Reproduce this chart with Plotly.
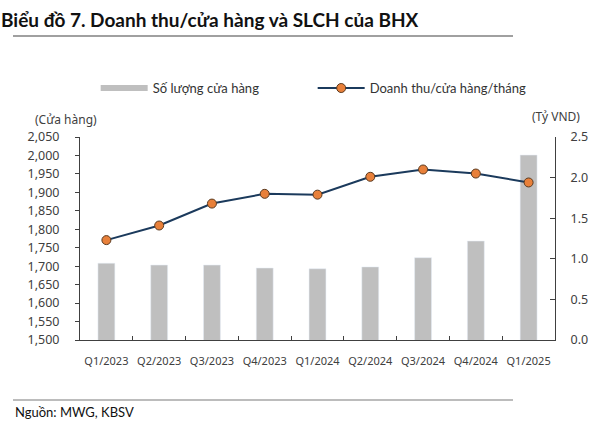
import plotly.graph_objects as go

quarters = ["Q1/2023", "Q2/2023", "Q3/2023", "Q4/2023", "Q1/2024",
            "Q2/2024", "Q3/2024", "Q4/2024", "Q1/2025"]
stores = [1708, 1703, 1703, 1695, 1693, 1698, 1723, 1768, 2001]
rev_per_store = [1.23, 1.41, 1.68, 1.80, 1.79, 2.01, 2.10, 2.05, 1.94]

left_ticks = list(range(1500, 2051, 50))
right_ticks = [0, 0.5, 1.0, 1.5, 2.0, 2.5]

BAR = "#BFBFBF"
NAVY = "#1B3A5C"
ORANGE = "#E8803A"
AX = "#404040"
XFONT = dict(family="Noto Sans", size=11, color="#404040")
YFONT = dict(family="Noto Sans", size=12.5, color="#404040")

fig = go.Figure()
fig.add_trace(go.Bar(x=quarters, y=stores, marker_color=BAR, width=0.32,
                     name="Số lượng cửa hàng", showlegend=False, yaxis="y"))
# legend proxy for the bar series
fig.add_trace(go.Scatter(x=[None], y=[None], mode="lines", name="Số lượng cửa hàng",
                         line=dict(color=BAR, width=6), yaxis="y"))
fig.add_trace(go.Scatter(x=quarters, y=rev_per_store, mode="lines+markers",
                         name="Doanh thu/cửa hàng/tháng", yaxis="y2",
                         line=dict(color=NAVY, width=2),
                         marker=dict(color=ORANGE, size=9,
                                     line=dict(color="#5a3a20", width=1))))

fig.update_layout(
    width=612, height=430,
    margin=dict(l=80, r=57, t=137, b=90),
    paper_bgcolor="white", plot_bgcolor="white",
    font=dict(family="Lato", color="#222"),
    showlegend=True,
    legend=dict(orientation="h", x=0.033, xanchor="left", y=1.241, yanchor="middle",
                font=dict(family="Lato", size=13, color="#333"),
                itemwidth=47, entrywidth=155, entrywidthmode="pixels",
                bgcolor="rgba(0,0,0,0)"),
    xaxis=dict(type="category", showline=True, linecolor=AX, linewidth=1,
               ticks="inside", ticklen=4, tickcolor=AX, tickson="boundaries",
               tickfont=XFONT, tickangle=0, showgrid=False, ticklabelstandoff=11,
               range=[-0.5, 8.5]),
    yaxis=dict(range=[1500, 2050], tickvals=left_ticks, tickformat=",d",
               showline=True, linecolor=AX, linewidth=1, ticks="outside",
               ticklen=4, tickcolor=AX, tickfont=YFONT, showgrid=False,
               zeroline=False, ticklabelstandoff=13),
    yaxis3=dict(range=[1500, 2050], tickvals=left_ticks, overlaying="y",
                side="left", showline=False, ticks="inside", ticklen=4,
                tickcolor=AX, showticklabels=False, showgrid=False,
                zeroline=False),
    yaxis2=dict(range=[0, 2.5], tickvals=right_ticks, tickformat=".1f",
                overlaying="y", side="right", showline=True, linecolor=AX,
                linewidth=1, ticks="inside", ticklen=5, tickcolor=AX,
                tickfont=YFONT, showgrid=False, zeroline=False,
                ticklabelstandoff=12),
)

fig.add_annotation(text="<b>Biểu đồ 7. Doanh thu/cửa hàng và SLCH của BHX</b>",
                   xref="paper", yref="paper", x=-81/475, y=(340-19)/203,
                   xanchor="left", yanchor="middle", showarrow=False,
                   font=dict(family="Lato", size=19, color="#111"))
fig.add_shape(type="line", xref="paper", yref="paper",
              x0=-67/475, x1=433/475, y0=(340-36)/203, y1=(340-36)/203,
              line=dict(color="#808080", width=1.5))
fig.add_annotation(text="(Cửa hàng)", xref="paper", yref="paper",
                   x=-14/475, y=(340-119)/203, xanchor="center", yanchor="middle",
                   showarrow=False, font=dict(family="Noto Sans", size=12, color="#404040"))
fig.add_annotation(text="(Tỷ VND)", xref="paper", yref="paper",
                   x=476/475, y=(340-117)/203, xanchor="center", yanchor="middle",
                   showarrow=False, font=dict(family="Noto Sans", size=12, color="#404040"))
fig.add_shape(type="line", xref="paper", yref="paper",
              x0=-67/475, x1=433/475, y0=(340-400)/203, y1=(340-400)/203,
              line=dict(color="#A6A6A6", width=1.5))
fig.add_annotation(text="Nguồn: MWG, KBSV", xref="paper", yref="paper",
                   x=-67/475, y=(340-412)/203, xanchor="left", yanchor="middle",
                   showarrow=False, font=dict(family="Lato", size=13, color="#111"))

fig.write_html("out.html")
